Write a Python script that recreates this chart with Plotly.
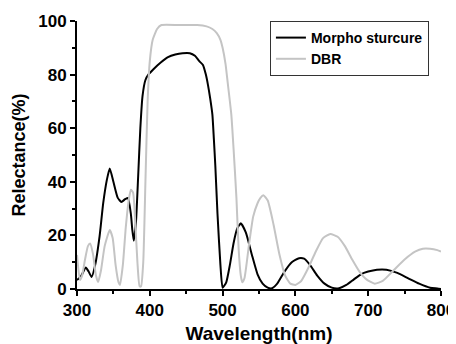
import plotly.graph_objects as go

morpho_wl = [300, 305, 312, 316, 320, 325, 331, 336, 341, 345, 350, 356, 361, 366, 370, 374, 376, 378, 381, 384, 387, 390, 394, 398, 405, 415, 425, 435, 445, 455, 462, 468, 473, 477, 480, 483, 486, 488, 490, 493, 497, 500, 505, 510, 515, 520, 525, 532, 540, 548, 555, 562, 568, 575, 585, 595, 605, 612, 620, 630, 640, 650, 660, 670, 680, 690, 700, 712, 725, 740, 755, 770, 785, 795, 800]
morpho_r = [3.4, 4.5, 8, 6.5, 4.5, 9, 19.6, 32, 40.7, 45, 40, 34, 32.5, 33.5, 34, 28, 22, 18, 25, 42, 60, 72, 78, 80, 82, 84.5, 86.5, 87.5, 88, 88, 87, 85, 83.6, 80, 76, 71, 65, 56, 46, 28, 9, 0.5, 2.5, 9, 17, 22.5, 24.5, 21, 13, 5.5, 2, 0.5, 0.3, 2, 6.5, 10, 11.5, 11.3, 9, 5, 2, 0.5, 0.3, 1.5, 3.5, 5.5, 6.5, 7.2, 7.2, 6, 4, 2, 0.5, 0.2, 0]

dbr_wl = [300, 304, 307, 311, 315, 318, 322, 326, 329, 333, 338, 345, 349, 353, 357, 359, 363, 367, 371, 374, 377, 380, 383, 386, 388, 391, 394, 397, 400, 404, 410, 416, 440, 465, 478, 486, 492, 497, 500, 504, 507, 512, 515, 519, 522, 525, 527, 530, 536, 542, 548, 552, 556, 562, 570, 578, 586, 593, 600, 608, 618, 628, 638, 648, 658, 668, 678, 688, 698, 709, 720, 735, 750, 765, 775, 785, 795, 800]
dbr_r = [12.7, 3.4, 5, 11, 16, 17, 13, 5, 2.6, 7, 16, 22, 19, 9, 2.5, 1.5, 9, 23, 33, 37, 36, 25, 10, 1, 1, 10, 40, 70, 85, 93, 97, 98.5, 98.5, 98.5, 98, 97, 95.5, 93, 90, 84, 77, 65, 52.6, 34, 15, 5, 2.5, 4, 16, 27, 32, 34, 35, 33, 24, 13, 5, 2, 1.5, 3, 8, 14, 19, 20.5, 19.5, 16, 11, 6.5, 3.5, 2, 3, 7, 11, 14, 15, 15, 14.5, 14]

fig = go.Figure()
fig.add_trace(go.Scatter(x=morpho_wl, y=morpho_r, mode="lines", name="Morpho sturcure",
                         line=dict(color="black", width=2, shape="spline", smoothing=0.5)))
fig.add_trace(go.Scatter(x=dbr_wl, y=dbr_r, mode="lines", name="DBR",
                         line=dict(color="#c4c4c4", width=2, shape="spline", smoothing=0.5)))

FAM = "Liberation Sans, Arial, sans-serif"
# page body has an 8px margin, so the figure is 448x336 and sits at (8, 8)
fig.update_layout(
    width=448, height=336,
    margin=dict(l=69, r=15, t=13, b=55),
    paper_bgcolor="white", plot_bgcolor="white",
    font=dict(family=FAM, color="black"),
    showlegend=True,
    legend=dict(x=0.53, y=1.0, xanchor="left", yanchor="top",
                bordercolor="#333", borderwidth=1, bgcolor="white",
                font=dict(size=14, family=FAM, weight="bold"),
                tracegroupgap=0, itemwidth=30),
    xaxis=dict(range=[300, 800], tick0=300, dtick=100, ticks="outside", ticklen=5, tickwidth=2,
               tickcolor="black", automargin=False,
               showline=True, linecolor="black", linewidth=2, showgrid=False, zeroline=False,
               tickfont=dict(size=17, family=FAM, weight="bold"),
               minor=dict(dtick=50, ticks="outside", ticklen=3, tickwidth=1.5, tickcolor="black", showgrid=False),
               title=dict(text="Wavelength(nm)", font=dict(size=19, family=FAM, weight="bold"), standoff=10)),
    yaxis=dict(range=[0, 100], tick0=0, dtick=20, ticks="outside", ticklen=5, tickwidth=2,
               tickcolor="black", automargin=False,
               showline=True, linecolor="black", linewidth=2, showgrid=False, zeroline=False,
               tickfont=dict(size=17, family=FAM, weight="bold"),
               minor=dict(dtick=10, ticks="outside", ticklen=3, tickwidth=1.5, tickcolor="black", showgrid=False),
               title=dict(text="Relectance(%)", font=dict(size=18, family=FAM, weight="bold"), standoff=8)),
)

fig.write_html("out.html")
